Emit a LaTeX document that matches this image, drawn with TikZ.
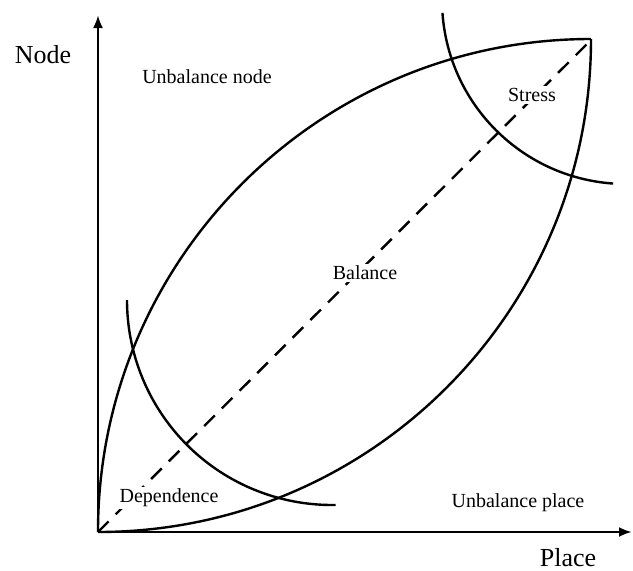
\documentclass[tikz,border=0pt]{standalone}
\usepackage{fontspec}
\setmainfont{Liberation Serif}
\usetikzlibrary{arrows.meta,positioning,calc}
\tikzset{
  curve/.style={line width=1.2pt,draw=black},
  axis/.style={-{Latex[length=6.5pt,width=5pt]},line width=1.3pt,draw=black},
  diag/.style={line width=1.2pt,dash pattern=on 7.5pt off 5pt},
  lbl/.style={font=\fontsize{10}{12}\selectfont,inner sep=1pt,fill=white},
  axlbl/.style={font=\fontsize{13}{15}\selectfont,inner sep=0pt},
}
\begin{document}
\begin{tikzpicture}[x=0.5pt,y=0.5pt]
\useasboundingbox (-98,-38) rectangle (535,532);
% axes
\coordinate (o) at (0,0);
\coordinate (xend) at (534,0);
\coordinate (yend) at (0,517);
\draw[axis] (o) -- (xend);
\draw[axis] (o) -- (yend);
\node[axlbl] (ylab) at (-55,477) {Node};
\node[axlbl] (xlab) at (470,-26) {Place};
% lens
\coordinate (p) at (494,493);
\draw[curve] (o) arc[start angle=180,end angle=90,radius=493];
\draw[curve] (o) arc[start angle=-90,end angle=0,radius=493];
\draw[diag] (o) -- (p);
% zone arcs
\coordinate (depc) at (234,232);
\coordinate (strc) at (528,532);
\draw[curve] ($(depc)+(180:205)$) arc[start angle=180,end angle=271,radius=205];
\draw[curve] ($(strc)+(184:184)$) arc[start angle=184,end angle=266,radius=184];
% labels
\node[lbl] (unode) at (109,455) {Unbalance node};
\node[lbl] (uplace) at (420,29) {Unbalance place};
\node[lbl] (dep) at (71,34) {Dependence};
\node[lbl] (bal) at (267,259) {Balance};
\node[lbl] (str) at (434,437) {Stress};
\end{tikzpicture}
\end{document}
